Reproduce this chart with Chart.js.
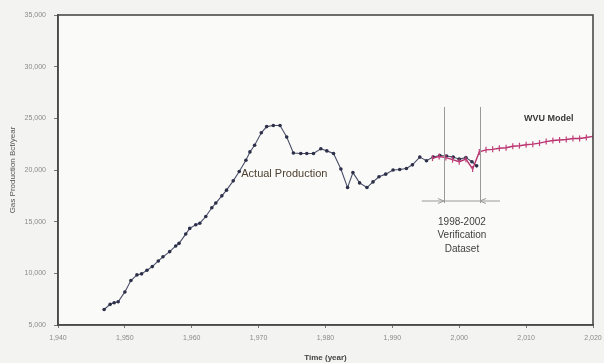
<!DOCTYPE html>
<html>
<head>
<meta charset="utf-8">
<script src="https://cdn.jsdelivr.net/npm/chart.js@4/dist/chart.umd.min.js"></script>
<style>
  html, body { margin: 0; padding: 0; background: #f3f3f1; }
  #wrap { width: 604px; height: 363px; }
</style>
</head>
<body>
<div id="wrap"><canvas id="gasChart" width="604" height="363"></canvas></div>
<script>
// data (years, Bcf/year)
const actualYears = [1946.9, 1947.8, 1948.4, 1949.0, 1950.0, 1950.9, 1951.8, 1952.5, 1953.3, 1954.1,
  1955.0, 1955.7, 1956.7, 1957.6, 1958.1, 1959.1, 1959.7, 1960.6, 1961.2, 1962.1,
  1963.0, 1963.6, 1964.5, 1965.2, 1966.2, 1967.1, 1968.1, 1968.7, 1969.4, 1970.4,
  1971.2, 1972.2, 1973.2, 1974.2, 1975.2, 1976.3, 1977.2, 1978.2, 1979.3, 1980.2,
  1981.2, 1982.3, 1983.3, 1984.1, 1985.1, 1986.2, 1987.1, 1988.0, 1989.0, 1990.1,
  1991.1, 1992.1, 1993.0, 1994.1, 1995.1, 1996.1, 1997.1, 1998.1, 1999.1, 2000.0,
  2001.0, 2001.9, 2002.6];
const actualValues = [6500, 7000, 7150, 7250, 8200, 9300, 9850, 9950, 10300, 10650,
  11200, 11600, 12100, 12650, 12900, 13800, 14350, 14700, 14850, 15500,
  16350, 16800, 17500, 18050, 18950, 19850, 20950, 21750, 22400, 23600,
  24200, 24300, 24300, 23200, 21650, 21600, 21600, 21600, 22050, 21850,
  21600, 20100, 18300, 19750, 18750, 18300, 18850, 19350, 19600, 20000,
  20050, 20150, 20500, 21250, 20900, 21250, 21400, 21350, 21250, 21050,
  21200, 20800, 20400];

const modelYears = [1996, 1997, 1998, 1999, 2000, 2001, 2002, 2003, 2004, 2005,
  2006, 2007, 2008, 2009, 2010, 2011, 2012, 2013, 2014, 2015,
  2016, 2017, 2018, 2019, 2020];
const modelValues = [21150, 21300, 21200, 21000, 20800, 21050, 20100, 21750, 21950, 22000,
  22100, 22150, 22300, 22350, 22450, 22500, 22600, 22750, 22850, 22900,
  22950, 23050, 23050, 23150, 23250];

const yearTicks = [1940, 1950, 1960, 1970, 1980, 1990, 2000, 2010, 2020];
const valueTicks = [5000, 10000, 15000, 20000, 25000, 30000, 35000];

const verificationYears = [1997.7, 2003.1];
const verificationLabel = ['1998-2002', 'Verification', 'Dataset'];

function toPoints(xs, ys) {
  return xs.map((x, i) => ({ x: x, y: ys[i] }));
}

const fmt = v => Number(v).toLocaleString('en-US');

// background, frame and the notes drawn on the plot
const decorPlugin = {
  id: 'decor',
  beforeDraw(chart) {
    const { ctx, chartArea: a } = chart;
    ctx.save();
    ctx.fillStyle = '#f3f3f1';
    ctx.fillRect(0, 0, chart.width, chart.height);
    ctx.fillStyle = '#fafaf8';
    ctx.fillRect(a.left, a.top, a.right - a.left, a.bottom - a.top);
    ctx.restore();
  },
  afterDatasetsDraw(chart) {
    const { ctx, chartArea: a } = chart;
    const xs = chart.scales.x, ys = chart.scales.y;
    ctx.save();

    // frame
    ctx.strokeStyle = '#4a4a4a';
    ctx.lineWidth = 1.6;
    ctx.strokeRect(a.left, a.top, a.right - a.left, a.bottom - a.top);

    // verification window lines
    ctx.strokeStyle = '#9a9a9a';
    ctx.lineWidth = 1;
    const yTop = ys.getPixelForValue(26100);
    const yBot = ys.getPixelForValue(16800);
    const yArrow = ys.getPixelForValue(17000);
    const xL = xs.getPixelForValue(verificationYears[0]);
    const xR = xs.getPixelForValue(verificationYears[1]);
    [xL, xR].forEach(x => {
      ctx.beginPath();
      ctx.moveTo(Math.round(x) + 0.5, yTop);
      ctx.lineTo(Math.round(x) + 0.5, yBot);
      ctx.stroke();
    });
    const xA0 = xs.getPixelForValue(1994.4), xA1 = xs.getPixelForValue(2006.1);
    ctx.beginPath();
    ctx.moveTo(xA0, yArrow);
    ctx.lineTo(xA1, yArrow);
    ctx.stroke();
    // arrow heads pointing in at the two lines
    ctx.beginPath();
    ctx.moveTo(xL - 6, yArrow - 2.5); ctx.lineTo(xL, yArrow); ctx.lineTo(xL - 6, yArrow + 2.5);
    ctx.moveTo(xR + 6, yArrow - 2.5); ctx.lineTo(xR, yArrow); ctx.lineTo(xR + 6, yArrow + 2.5);
    ctx.stroke();

    // labels
    ctx.fillStyle = '#3f3f3f';
    ctx.font = '10px "Liberation Sans", Arial, sans-serif';
    ctx.textAlign = 'center';
    ctx.textBaseline = 'middle';
    const cx = (xL + xR) / 2;
    verificationLabel.forEach((t, i) => {
      ctx.fillText(t, cx, yArrow + 21 + i * 13.5);
    });

    ctx.fillStyle = '#4d4030';
    ctx.font = '11px "Liberation Sans", Arial, sans-serif';
    ctx.textAlign = 'left';
    ctx.fillText('Actual Production', xs.getPixelForValue(1967.4), ys.getPixelForValue(19650));

    ctx.fillStyle = '#3a3a3a';
    ctx.font = 'bold 9px "Liberation Sans", Arial, sans-serif';
    ctx.fillText('WVU Model', xs.getPixelForValue(2009.7), ys.getPixelForValue(25000));
    ctx.restore();
  }
};

const ctx = document.getElementById('gasChart').getContext('2d');
new Chart(ctx, {
  type: 'scatter',
  data: {
    datasets: [{
      label: 'WVU Model',
      data: toPoints(modelYears, modelValues),
      showLine: true,
      borderColor: '#b8346e',
      borderWidth: 1.4,
      pointStyle: 'line',
      rotation: 90,
      pointRadius: 3,
      pointBorderWidth: 1.2,
      pointBorderColor: '#c2407a',
      pointBackgroundColor: '#c2407a',
      tension: 0,
      order: 0
    }, {
      label: 'Actual Production',
      data: toPoints(actualYears, actualValues),
      showLine: true,
      borderColor: '#4a4e68',
      borderWidth: 1.1,
      pointStyle: 'circle',
      pointRadius: 1.8,
      pointBorderWidth: 0,
      pointBackgroundColor: '#2c2f48',
      tension: 0,
      order: 1
    }]
  },
  options: {
    responsive: false,
    animation: false,
    events: [],
    layout: { padding: { top: 15, right: 11, left: 0, bottom: 0 } },
    plugins: {
      legend: { display: false },
      tooltip: { enabled: false }
    },
    scales: {
      x: {
        type: 'linear',
        min: 1940,
        max: 2020,
        afterBuildTicks: s => { s.ticks = yearTicks.map(v => ({ value: v })); },
        afterFit: s => { s.height = 38; s.paddingRight = 0; s.paddingLeft = 0; },
        grid: { display: true, drawOnChartArea: false, tickLength: 3, color: '#777' },
        border: { display: true, color: '#4a4a4a', width: 1.6 },
        ticks: {
          color: '#8a8a8a',
          font: { size: 7, family: '"Liberation Sans", Arial, sans-serif' },
          padding: 6,
          maxRotation: 0,
          callback: v => fmt(v)
        },
        title: {
          display: true,
          text: 'Time (year)',
          color: '#444',
          font: { size: 8, weight: 'bold', family: '"Liberation Sans", Arial, sans-serif' },
          padding: { top: 2, bottom: 0 }
        }
      },
      y: {
        type: 'linear',
        min: 5000,
        max: 35000,
        afterBuildTicks: s => { s.ticks = valueTicks.map(v => ({ value: v })); },
        afterFit: s => { s.width = 58; },
        grid: { display: true, drawOnChartArea: false, tickLength: 4, color: '#777' },
        border: { display: true, color: '#4a4a4a', width: 1.6 },
        ticks: {
          color: '#8a8a8a',
          font: { size: 7, family: '"Liberation Sans", Arial, sans-serif' },
          padding: 8,
          callback: v => fmt(v)
        },
        title: {
          display: true,
          text: 'Gas Production Bcf/year',
          color: '#555',
          font: { size: 8, family: '"Liberation Sans", Arial, sans-serif' },
          padding: { top: 8, bottom: 0 }
        }
      }
    }
  },
  plugins: [decorPlugin]
});
</script>
</body>
</html>
